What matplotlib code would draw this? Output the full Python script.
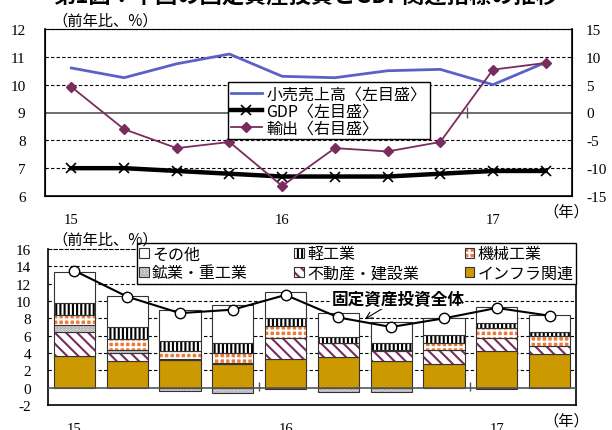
import matplotlib
matplotlib.use('Agg')
import numpy as np
import matplotlib.pyplot as plt
from matplotlib.patches import Patch
from matplotlib.lines import Line2D

plt.rcParams['font.family'] = ['Noto Sans CJK JP', 'DejaVu Sans']
plt.rcParams['hatch.linewidth'] = 1.5
plt.rcParams['axes.unicode_minus'] = False
NUM_FONT = 'Liberation Serif'

# quarterly, 2015Q1 - 2017Q2
quarters = ['15Q1', '15Q2', '15Q3', '15Q4', '16Q1', '16Q2', '16Q3', '16Q4', '17Q1', '17Q2']
year_labels = ['15', '16', '17']

# top panel (yoy %)
retail = [10.6, 10.25, 10.75, 11.1, 10.3, 10.25, 10.5, 10.55, 10.0, 10.8]
gdp = [7.0, 7.0, 6.9, 6.8, 6.7, 6.7, 6.7, 6.8, 6.9, 6.9]
exports = [4.6, -3.0, -6.4, -5.3, -13.2, -6.4, -7.0, -5.3, 7.7, 8.9]

# bottom panel: contributions to fixed asset investment growth
infra = [3.7, 3.05, 3.15, 2.75, 3.35, 3.55, 3.1, 2.75, 4.2, 3.9]
realestate = [2.7, 1.0, 0.2, 0.15, 2.4, 1.55, 1.1, 1.55, 1.55, 0.9]
mining = [0.8, 0.35, -0.4, -0.6, -0.2, -0.5, -0.5, -0.05, -0.1, -0.05]
machinery = [1.2, 1.2, 0.85, 1.1, 1.35, 0.1, 0.2, 0.8, 1.15, 1.15]
light = [1.35, 1.35, 1.22, 1.15, 0.95, 0.6, 0.7, 0.95, 0.55, 0.5]
other = [3.65, 3.6, 3.5, 4.35, 3.0, 2.8, 2.5, 2.0, 1.9, 1.9]
fai_total = [13.5, 10.5, 8.6, 9.0, 10.7, 8.1, 7.0, 8.0, 9.2, 8.3]

W, H = 612, 431
fig = plt.figure(figsize=(W / 100, H / 100), dpi=100)


def fx(px):
    return px / W


def fy(py):
    return 1 - py / H


x = np.arange(len(quarters))
year_pos = x[::4]
year_edges = x[3::4][:2] + 0.5

fig.text(fx(306), fy(3), '第1図：中国の固定資産投資とGDP関連指標の推移',
         ha='center', va='baseline', fontsize=16, weight='bold')

# ---------------- top panel ----------------
ax1 = fig.add_axes([fx(45), fy(197), fx(572) - fx(45), fy(30) - fy(197)])
ax1.set_xlim(-0.5, 9.5)
ax1.set_ylim(6, 12)
ax1.set_yticks(range(6, 13))
for v in [7, 8, 10, 11]:
    ax1.axhline(v, color='black', lw=0.8, ls=(0, (3, 2)), zorder=0)
ax1.axhline(9, color='#555555', lw=1.2, zorder=0)
ax1.spines['top'].set_linestyle((0, (3, 2)))
ax1.spines['top'].set_linewidth(0.8)
for s in ['left', 'right', 'bottom']:
    ax1.spines[s].set_linewidth(1.2)
ax1.set_xticks(year_pos)
ax1.set_xticklabels(year_labels, fontfamily=NUM_FONT, fontsize=10.5)
ax1.tick_params(axis='x', length=0, pad=12)
ax1.tick_params(axis='y', length=0, pad=14, labelsize=11)
for t in ax1.get_yticklabels():
    t.set_fontfamily(NUM_FONT)

ax1.plot(x, retail, color='#5A62C6', lw=2.0, zorder=3)
ax1.plot(x, gdp, color='black', lw=3.2, marker='x', ms=7, mew=1.2,
         mfc='white', mec='black', zorder=3)

ax1r = ax1.twinx()
ax1r.set_ylim(-15, 15)
ax1r.set_yticks(range(-15, 16, 5))
ax1r.tick_params(axis='y', length=0, pad=10, labelsize=11)
for t in ax1r.get_yticklabels():
    t.set_fontfamily(NUM_FONT)
ax1r.plot(x, exports, color='#7A2C5E', lw=1.3, marker='D', ms=5, zorder=3)
ax1r.vlines(year_edges[1:], -0.9, 0.9, color='#555555', lw=1)

top_handles = [
    Line2D([], [], color='#5A62C6', lw=2.0),
    Line2D([], [], color='black', lw=3.2, marker='x', ms=7, mew=1.2),
    Line2D([], [], color='#7A2C5E', lw=1.3, marker='D', ms=5),
]
top_labels = ['小売売上高〈左目盛〉', 'GDP〈左目盛〉', '輸出〈右目盛〉']
leg1 = ax1r.legend(top_handles, top_labels, loc='upper left',
                   bbox_to_anchor=(fx(228), fy(83)), bbox_transform=fig.transFigure,
                   borderaxespad=0, fontsize=11.5, handlelength=1.9, handletextpad=0.3,
                   labelspacing=0.0, borderpad=0.2, fancybox=False, framealpha=1,
                   edgecolor='black')
leg1.get_frame().set_linewidth(1.0)

fig.text(fx(52), fy(21), '（前年比、%）', fontsize=11, va='center', ha='left')
fig.text(fx(566), fy(212), '（年）', fontsize=11, va='center', ha='center')

# ---------------- bottom panel ----------------
ax2 = fig.add_axes([fx(48), fy(406), fx(576) - fx(48), fy(250) - fy(406)])
ax2.set_xlim(-0.5, 9.5)
ax2.set_ylim(-2, 16)
ax2.set_yticks(range(-2, 17, 2))
for v in range(2, 15, 2):
    ax2.axhline(v, color='black', lw=0.8, ls=(0, (3, 2)), zorder=0)
ax2.axhline(0, color='#555555', lw=1.2, zorder=4)
ax2.spines['top'].set_linestyle((0, (3, 2)))
ax2.spines['top'].set_linewidth(0.8)
for s in ['left', 'right', 'bottom']:
    ax2.spines[s].set_linewidth(1.2)
ax2.set_xticks(year_pos)
ax2.set_xticklabels(year_labels, fontfamily=NUM_FONT, fontsize=10.5)
ax2.tick_params(axis='x', length=0, pad=12)
ax2.tick_params(axis='y', length=0, pad=12, labelsize=11)
for t in ax2.get_yticklabels():
    t.set_fontfamily(NUM_FONT)
ax2.vlines(year_edges, -0.4, 0.65, color='#555555', lw=1, zorder=4)

# (values, face, hatch, hatch colour, legend label)
components = [
    (infra, '#CC9900', None, '#CC9900', 'インフラ関連'),
    (realestate, 'white', '\\\\\\', '#7A2C5E', '不動産・建設業'),
    (mining, 'white', '......', '#888888', '鉱業・重工業'),
    (machinery, '#EE7A3A', '+++', 'white', '機械工業'),
    (light, 'white', '||||', 'black', '軽工業'),
    (other, 'white', None, 'white', 'その他'),
]

bw = 0.78
pos_base = np.zeros(len(x))
neg_base = np.zeros(len(x))
handles = {}
for vals, face, hatch, hcol, label in components:
    vals = np.array(vals)
    base = np.where(vals >= 0, pos_base, neg_base)
    ax2.bar(x, vals, bw, bottom=base, color=face, edgecolor=hcol, hatch=hatch,
            lw=0, zorder=2)
    ax2.bar(x, vals, bw, bottom=base, color='none', edgecolor='#333333',
            lw=0.8, zorder=2)
    pos_base += np.where(vals >= 0, vals, 0)
    neg_base += np.where(vals < 0, vals, 0)
    h = Patch(facecolor=face, edgecolor=hcol, hatch=hatch, lw=0)
    handles[label] = (h, Patch(facecolor='none', edgecolor='#333333', lw=0.8))

ax2.plot(x, fai_total, color='black', lw=1.5, marker='o', ms=7.5,
         mfc='white', mec='black', mew=1.0, zorder=5)

ax2.annotate('固定資産投資全体', xy=(5.5, 7.9), xytext=(fx(398), fy(300)),
             textcoords='figure fraction', ha='center', va='center',
             fontsize=12, weight='bold',
             bbox=dict(facecolor='white', edgecolor='none', pad=0.5),
             arrowprops=dict(arrowstyle='->', lw=0.8, color='black',
                             shrinkA=0, shrinkB=0), zorder=6)

order = ['その他', '鉱業・重工業', '軽工業', '不動産・建設業', '機械工業', 'インフラ関連']
leg2 = ax2.legend([handles[k] for k in order], order, ncol=3, loc='upper left',
                  bbox_to_anchor=(fx(137), fy(286), fx(576) - fx(137), fy(244) - fy(286)),
                  bbox_transform=fig.transFigure, mode='expand', borderaxespad=0,
                  fontsize=11.5, handlelength=0.6, handleheight=0.6,
                  handletextpad=0.2, labelspacing=0.12, borderpad=0.15,
                  columnspacing=1.5, fancybox=False, framealpha=1,
                  edgecolor='black')
leg2.get_frame().set_linewidth(1.0)
leg2.set_zorder(10)

fig.text(fx(52), fy(240), '（前年比、%）', fontsize=11, va='center', ha='left')
fig.text(fx(566), fy(421), '（年）', fontsize=11, va='center', ha='center')

fig.savefig('out.png', dpi=100)
